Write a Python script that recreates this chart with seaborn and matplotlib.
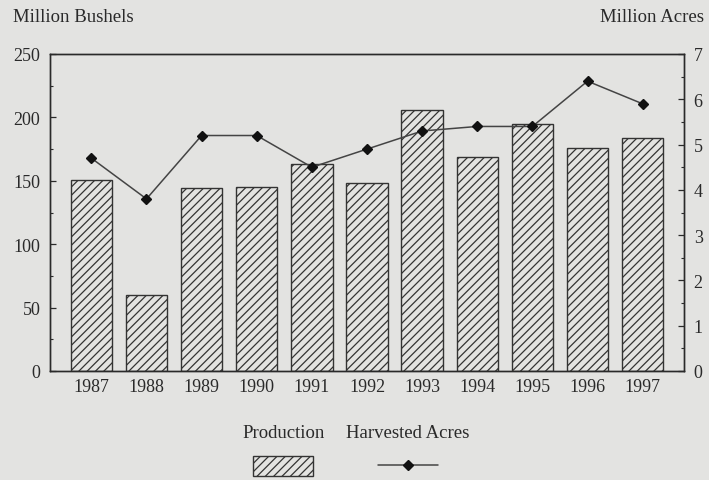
import numpy as np
import pandas as pd
import matplotlib
matplotlib.use("Agg")
import matplotlib.pyplot as plt
import seaborn as sns
from matplotlib.patches import Patch
from matplotlib.lines import Line2D
from matplotlib.ticker import MultipleLocator

years = ["1987", "1988", "1989", "1990", "1991", "1992", "1993", "1994", "1995", "1996", "1997"]
production = [151, 60, 144, 145, 163, 148, 206, 169, 195, 176, 184]
acres = [4.7, 3.8, 5.2, 5.2, 4.5, 4.9, 5.3, 5.4, 5.4, 6.4, 5.9]

bg = "#e3e3e1"
ink = "#2a2a2a"
fs = 13

sns.set_style("white")
plt.rcParams["font.family"] = ["Liberation Serif", "DejaVu Serif"]
plt.rcParams["hatch.linewidth"] = 0.9
plt.rcParams["hatch.color"] = "#333333"

fig = plt.figure(figsize=(7.09, 4.81), dpi=100, facecolor=bg)
ax = fig.add_axes([50/709, 1-372/481, 634/709, 317/481])
ax.set_facecolor(bg)

df = pd.DataFrame({"year": years, "production": production, "acres": acres})
sns.barplot(data=df, x="year", y="production", ax=ax, color=bg, edgecolor="#333333",
            linewidth=1.0, hatch="////", width=0.75, saturation=1)
ax.set_xlim(-0.75, 10.75)
ax.set_ylim(0, 250)
ax.set_xlabel("")
ax.set_ylabel("")
ax.yaxis.set_major_locator(MultipleLocator(50))
ax.yaxis.set_minor_locator(MultipleLocator(25))
ax.tick_params(axis="y", which="major", direction="in", length=4, width=0.9, color=ink,
               labelsize=fs, labelcolor=ink, pad=7)
ax.tick_params(axis="y", which="minor", direction="in", length=2.5, width=0.8, color=ink)
ax.tick_params(axis="x", length=0, labelsize=fs, labelcolor=ink, pad=5)
for s in ax.spines.values():
    s.set_color(ink)
    s.set_linewidth(1.0)

ax2 = ax.twinx()
ax2.plot(np.arange(len(years)), df["acres"], color="#444444", linewidth=1.1,
         marker="D", markersize=5.5, markerfacecolor="#111111", markeredgecolor="#111111")
ax2.set_ylim(0, 7)
ax2.set_xlim(-0.75, 10.75)
ax2.yaxis.set_major_locator(MultipleLocator(1))
ax2.yaxis.set_minor_locator(MultipleLocator(0.5))
ax2.tick_params(axis="y", which="major", direction="in", length=4, width=0.9, color=ink,
                labelsize=fs, labelcolor=ink, pad=7)
ax2.tick_params(axis="y", which="minor", direction="in", length=2.5, width=0.8, color=ink)
for s in ax2.spines.values():
    s.set_color(ink)
    s.set_linewidth(1.0)

fig.text(13/709, 1-17/481, "Million Bushels", fontsize=13.5, color=ink, va="center", ha="left")
fig.text(704/709, 1-17/481, "Million Acres", fontsize=13.5, color=ink, va="center", ha="right")

fig.text(284/709, 1-434/481, "Production", fontsize=13.5, color=ink, va="center", ha="center")
fig.text(408/709, 1-434/481, "Harvested Acres", fontsize=13.5, color=ink, va="center", ha="center")

h1 = Patch(facecolor=bg, edgecolor="#333333", hatch="////", linewidth=1.0)
h2 = Line2D([], [], color="#444444", linewidth=1.1, marker="D", markersize=5.5,
            markerfacecolor="#111111", markeredgecolor="#111111")
fig.legend(handles=[h1], labels=[""], loc="center", bbox_to_anchor=(283/709, 1-467/481),
           frameon=False, handlelength=4.3, handleheight=1.8, handletextpad=0, fontsize=10,
           borderpad=0, borderaxespad=0)
fig.legend(handles=[h2], labels=[""], loc="center", bbox_to_anchor=(408/709, 1-467/481),
           frameon=False, handlelength=4.3, handletextpad=0, fontsize=10,
           borderpad=0, borderaxespad=0)

fig.savefig("out.png", dpi=100, facecolor=bg)
